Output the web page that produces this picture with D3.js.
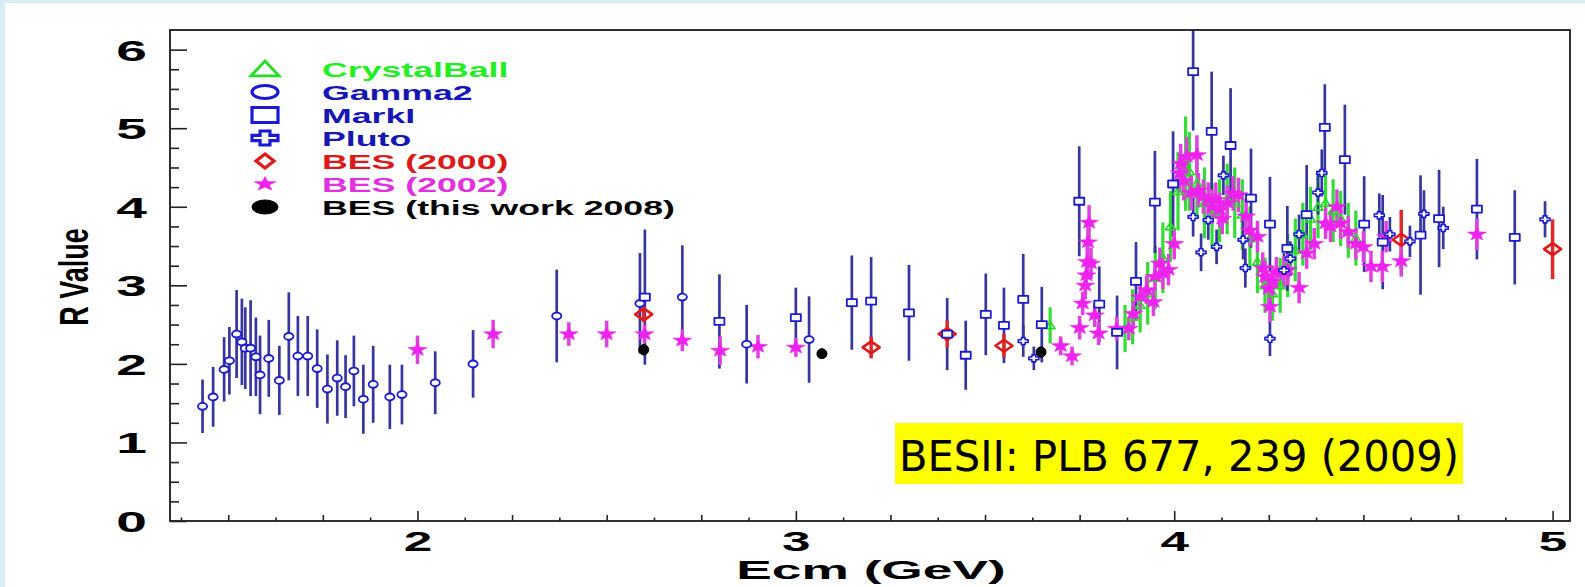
<!DOCTYPE html>
<html>
<head>
<meta charset="utf-8">
<script src="https://cdn.jsdelivr.net/npm/d3@7"></script>
<style>
  html, body { margin: 0; padding: 0; background: #d9eef4; }
  svg { display: block; }
</style>
</head>
<body>
<svg id="chart" width="1585" height="587"></svg>
<script>
// R value measurements: [Ecm (GeV), R, error]
const crystalBall = [
  [3.672, 2.49, 0.23], [3.87, 2.45, 0.30], [3.89, 2.60, 0.35], [3.91, 2.75, 0.35],
  [3.93, 2.90, 0.40], [3.95, 3.10, 0.40], [3.97, 3.35, 0.45], [3.99, 3.75, 0.45],
  [4.01, 4.20, 0.50], [4.03, 4.55, 0.60], [4.04, 4.45, 0.50], [4.06, 4.30, 0.45],
  [4.08, 4.05, 0.45], [4.10, 3.90, 0.40], [4.12, 3.95, 0.40], [4.14, 4.10, 0.45],
  [4.16, 4.05, 0.45], [4.18, 3.90, 0.45], [4.20, 3.60, 0.40], [4.22, 3.30, 0.40],
  [4.24, 3.00, 0.35], [4.26, 2.90, 0.35], [4.28, 3.00, 0.35], [4.30, 3.25, 0.40],
  [4.32, 3.45, 0.40], [4.34, 3.65, 0.40], [4.36, 3.85, 0.40], [4.38, 4.00, 0.40],
  [4.40, 4.05, 0.40], [4.42, 3.95, 0.40], [4.44, 3.85, 0.35], [4.46, 3.70, 0.35],
  [4.48, 3.60, 0.35]
];
const gamma2 = [
  [1.432, 1.46, 0.34], [1.460, 1.58, 0.38], [1.489, 1.93, 0.41], [1.503, 2.04, 0.43],
  [1.522, 2.38, 0.56], [1.536, 2.28, 0.55], [1.545, 2.20, 0.52], [1.559, 2.20, 0.61],
  [1.573, 2.09, 0.50], [1.584, 1.86, 0.50], [1.607, 2.07, 0.49], [1.635, 1.79, 0.44],
  [1.660, 2.35, 0.56], [1.684, 2.10, 0.51], [1.710, 2.10, 0.51], [1.735, 1.94, 0.50],
  [1.762, 1.68, 0.44], [1.788, 1.82, 0.48], [1.810, 1.71, 0.40], [1.832, 1.91, 0.45],
  [1.857, 1.55, 0.44], [1.883, 1.74, 0.49], [1.927, 1.58, 0.41], [1.959, 1.61, 0.38],
  [2.047, 1.76, 0.40], [2.147, 2.00, 0.43], [2.368, 2.61, 0.59], [2.588, 2.77, 0.64],
  [2.700, 2.85, 0.66], [2.870, 2.25, 0.50], [3.035, 2.31, 0.55]
];
const markI = [
  [2.601, 2.85, 0.86], [2.798, 2.54, 0.60], [3.000, 2.59, 0.38], [3.148, 2.78, 0.60],
  [3.199, 2.80, 0.56], [3.299, 2.65, 0.61], [3.400, 2.38, 0.46], [3.449, 2.11, 0.44],
  [3.502, 2.63, 0.52], [3.550, 2.49, 0.48], [3.601, 2.82, 0.58], [3.650, 2.50, 0.48],
  [3.749, 4.07, 0.70], [3.802, 2.76, 0.48], [3.849, 2.40, 0.47], [3.899, 3.05, 0.50],
  [3.949, 4.06, 0.65], [3.997, 4.29, 0.67], [4.050, 5.72, 0.75], [4.099, 4.96, 0.76],
  [4.149, 4.78, 0.73], [4.203, 4.11, 0.63], [4.253, 3.78, 0.60], [4.299, 3.47, 0.54],
  [4.350, 3.90, 0.63], [4.398, 5.01, 0.55], [4.451, 4.60, 0.70], [4.502, 3.78, 0.61],
  [4.551, 3.55, 0.60], [4.651, 3.64, 0.76], [4.700, 3.85, 0.62], [4.800, 3.97, 0.64],
  [4.900, 3.61, 0.60]
];
const pluto = [
  [3.601, 2.29, 0.20], [3.629, 2.07, 0.15], [4.050, 3.87, 0.25], [4.071, 3.42, 0.24],
  [4.090, 3.83, 0.25], [4.112, 3.49, 0.22], [4.130, 4.40, 0.25], [4.182, 3.58, 0.25],
  [4.188, 3.22, 0.25], [4.253, 2.32, 0.22], [4.290, 3.19, 0.22], [4.307, 3.34, 0.22],
  [4.330, 3.65, 0.25], [4.380, 4.18, 0.28], [4.390, 4.43, 0.30], [4.542, 3.89, 0.28],
  [4.570, 3.65, 0.22], [4.623, 3.56, 0.20], [4.660, 3.91, 0.30], [4.711, 3.73, 0.27],
  [4.980, 3.84, 0.23]
];
const bes2000 = [
  [2.598, 2.63, 0.10], [3.199, 2.21, 0.14], [3.400, 2.38, 0.17], [3.550, 2.23, 0.15],
  [4.600, 3.58, 0.38], [5.000, 3.46, 0.38]
];
const bes2002 = [
  [2.000, 2.18, 0.18], [2.200, 2.38, 0.18], [2.400, 2.38, 0.15], [2.500, 2.38, 0.17],
  [2.600, 2.38, 0.12], [2.700, 2.30, 0.14], [2.800, 2.17, 0.18], [2.900, 2.22, 0.15],
  [3.000, 2.21, 0.12], [3.700, 2.23, 0.12], [3.730, 2.10, 0.12], [3.750, 2.46, 0.15],
  [3.758, 2.77, 0.15], [3.765, 3.00, 0.18], [3.768, 3.13, 0.18], [3.770, 3.30, 0.20],
  [3.772, 3.55, 0.20], [3.775, 3.80, 0.22], [3.780, 3.28, 0.20], [3.790, 2.62, 0.15],
  [3.800, 2.39, 0.15], [3.848, 2.45, 0.15], [3.880, 2.45, 0.15], [3.892, 2.64, 0.16],
  [3.910, 2.85, 0.18], [3.927, 2.94, 0.18], [3.945, 2.79, 0.18], [3.949, 3.11, 0.18],
  [3.962, 3.28, 0.20], [3.970, 3.15, 0.20], [3.985, 3.20, 0.20], [4.000, 3.53, 0.20],
  [4.015, 4.43, 0.25], [4.017, 4.55, 0.25], [4.025, 4.33, 0.25], [4.033, 4.64, 0.25],
  [4.045, 4.18, 0.22], [4.060, 4.66, 0.25], [4.064, 4.21, 0.22], [4.077, 4.13, 0.22],
  [4.090, 4.09, 0.22], [4.100, 4.00, 0.22], [4.110, 4.09, 0.22], [4.120, 3.96, 0.22],
  [4.127, 3.85, 0.20], [4.140, 4.05, 0.22], [4.156, 4.17, 0.22], [4.170, 4.15, 0.22],
  [4.190, 3.88, 0.22], [4.200, 3.70, 0.20], [4.220, 3.62, 0.20], [4.234, 3.22, 0.20],
  [4.240, 3.11, 0.20], [4.250, 2.96, 0.20], [4.253, 2.73, 0.20], [4.260, 3.05, 0.20],
  [4.270, 3.16, 0.20], [4.290, 3.17, 0.20], [4.300, 3.20, 0.20], [4.330, 2.97, 0.20],
  [4.350, 3.41, 0.20], [4.370, 3.53, 0.20], [4.400, 3.79, 0.20], [4.413, 3.75, 0.20],
  [4.430, 4.00, 0.22], [4.440, 3.79, 0.20], [4.460, 3.68, 0.20], [4.480, 3.53, 0.20],
  [4.500, 3.49, 0.20], [4.520, 3.24, 0.20], [4.550, 3.24, 0.20], [4.560, 3.62, 0.20],
  [4.600, 3.31, 0.20], [4.800, 3.65, 0.20]
];
const bes2008 = [
  [2.598, 2.18, 0.07], [3.069, 2.13, 0.05], [3.648, 2.15, 0.07]
];

const legendNames = ["CrystalBall", "Gamma2", "MarkI", "Pluto", "BES (2000)", "BES (2002)", "BES (this work 2008)"];
const yTickValues = [0, 1, 2, 3, 4, 5, 6];
const xTickValues = [2, 3, 4, 5];
const xTitle = "Ecm (GeV)";
const yTitle = "R Value";
const noteText = "BESII: PLB 677, 239 (2009)";

// ---- layout ----
const W = 1585, H = 587;
const frame = { left: 170, right: 1570, top: 30, bottom: 521 };
const svg = d3.select("#chart");

svg.append("rect").attr("x", 5).attr("y", 3).attr("width", W - 5).attr("height", H - 3).attr("fill", "#ffffff");

const x = d3.scaleLinear().domain([1.346, 5.046]).range([frame.left, frame.right]);
const y = d3.scaleLinear().domain([0, 6.25]).range([frame.bottom, frame.top]);

const FONT = "'Liberation Sans', Arial, Helvetica, sans-serif";
const SX = 1.7; // horizontal stretch of the printed lettering

// ---- marker shapes (unit polygons) ----
const shapes = {
  triangle: [[0, -1], [1, 0.85], [-1, 0.85]],
  diamond: [[0, -1], [1, 0], [0, 1], [-1, 0]],
  plus: (() => { const a = 0.38; return [[-a,-1],[a,-1],[a,-a],[1,-a],[1,a],[a,a],[a,1],[-a,1],[-a,a],[-1,a],[-1,-a],[-a,-a]]; })(),
  square: [[-1, -1], [1, -1], [1, 1], [-1, 1]],
  star: d3.range(10).map(i => {
    const ang = -Math.PI / 2 + i * Math.PI / 5;
    const r = i % 2 === 0 ? 1 : 0.42;
    return [r * Math.cos(ang), r * Math.sin(ang)];
  })
};
function shapePath(name, rx, ry) {
  if (name === "circle") {
    return `M${-rx},0A${rx},${ry} 0 1,0 ${rx},0A${rx},${ry} 0 1,0 ${-rx},0Z`;
  }
  return "M" + shapes[name].map(p => [p[0] * rx, p[1] * ry].join(",")).join("L") + "Z";
}

// ---- series styling ----
const series = [
  { name: legendNames[0], data: crystalBall, shape: "triangle", rx: 5, ry: 4, stroke: "#22dd22", fill: "none", sw: 1.6, bar: "#33dd33", bw: 3.2, text: "#22ee22",
    lg: { rx: 14, ry: 8, sw: 2.8, filled: false } },
  { name: legendNames[1], data: gamma2, shape: "circle", rx: 4.6, ry: 3.4, stroke: "#1a1ad2", fill: "#ffffff", sw: 1.8, bar: "#36369e", bw: 2.7, text: "#1616b4",
    lg: { rx: 13, ry: 6.5, sw: 3.2, filled: false } },
  { name: legendNames[2], data: markI, shape: "square", rx: 5, ry: 3.5, stroke: "#1a1ad2", fill: "#ffffff", sw: 1.8, bar: "#36369e", bw: 2.7, text: "#1616b4",
    lg: { rx: 13, ry: 7.5, sw: 3.2, filled: false } },
  { name: legendNames[3], data: pluto, shape: "plus", rx: 5, ry: 3.5, stroke: "#1a1ad2", fill: "#ffffff", sw: 1.6, bar: "#36369e", bw: 2.7, text: "#1616b4",
    lg: { rx: 13, ry: 7, sw: 3.2, filled: false } },
  { name: legendNames[4], data: bes2000, shape: "diamond", rx: 8.5, ry: 6, stroke: "#e01818", fill: "none", sw: 2.6, bar: "#e02a2a", bw: 3.5, text: "#dd1a1a",
    lg: { rx: 9, ry: 7, sw: 3.2, filled: false } },
  { name: legendNames[5], data: bes2002, shape: "star", rx: 10, ry: 7, stroke: "#ee22ee", fill: "#ee22ee", sw: 0.5, bar: "#e040e0", bw: 3.5, text: "#e030e0",
    lg: { rx: 11.5, ry: 7.5, sw: 0.5, filled: true } },
  { name: legendNames[6], data: bes2008, shape: "circle", rx: 5, ry: 5, stroke: "#000000", fill: "#000000", sw: 1, bar: "#000000", bw: 3, text: "#000000",
    lg: { rx: 13, ry: 7, sw: 1, filled: true } }
];

const plot = svg.append("g");
const clip = svg.append("clipPath").attr("id", "plotclip");
clip.append("rect").attr("x", frame.left).attr("y", frame.top)
  .attr("width", frame.right - frame.left).attr("height", frame.bottom - frame.top);
const area = plot.append("g").attr("clip-path", "url(#plotclip)");

// error bars first, then markers; stars go beneath the blue markers
const barOrder = [0, 1, 2, 3, 4, 5, 6];
const markOrder = [0, 5, 4, 1, 2, 3, 6];

barOrder.forEach(i => {
  const s = series[i];
  area.append("g").selectAll("line").data(s.data).join("line")
    .attr("x1", d => x(d[0])).attr("x2", d => x(d[0]))
    .attr("y1", d => y(d[1] + d[2])).attr("y2", d => y(d[1] - d[2]))
    .attr("stroke", s.bar).attr("stroke-width", s.bw);
});
markOrder.forEach(i => {
  const s = series[i];
  area.append("g").selectAll("path").data(s.data).join("path")
    .attr("transform", d => `translate(${x(d[0])},${y(d[1])})`)
    .attr("d", shapePath(s.shape, s.rx, s.ry))
    .attr("fill", s.fill).attr("stroke", s.stroke).attr("stroke-width", s.sw)
    .attr("stroke-linejoin", "round");
});

// ---- frame ----
svg.append("rect").attr("x", frame.left).attr("y", frame.top)
  .attr("width", frame.right - frame.left).attr("height", frame.bottom - frame.top)
  .attr("fill", "none").attr("stroke", "#1a1a1a").attr("stroke-width", 1.8);

// ---- y axis ----
const yMinor = d3.range(0, 6.25, 0.25).filter(v => Math.abs(v - Math.round(v)) > 1e-6);
const yMinorAxis = svg.append("g").attr("transform", `translate(${frame.left},0)`)
  .call(d3.axisLeft(y).tickValues(yMinor).tickSize(-9).tickFormat(""));
const yAxis = svg.append("g").attr("transform", `translate(${frame.left},0)`)
  .call(d3.axisLeft(y).tickValues(yTickValues).tickSize(-17).tickFormat(d3.format("d")));
[yMinorAxis, yAxis].forEach(g => {
  g.select(".domain").remove();
  g.selectAll("line").attr("stroke", "#222").attr("stroke-width", 1.6);
});
yAxis.selectAll("text")
  .attr("x", 0).attr("dy", "0.36em")
  .attr("transform", `translate(-23,0) scale(1.9,1)`)
  .attr("text-anchor", "end")
  .attr("font-family", FONT).attr("font-weight", "bold").attr("font-size", 29).attr("fill", "#000");

// ---- x axis ----
const xSmall = d3.range(1.375, 5.04, 0.125).filter(v => Math.abs(v * 4 - Math.round(v * 4)) > 1e-6);
const xMedium = d3.range(1.5, 5.04, 0.25).filter(v => Math.abs(v - Math.round(v)) > 1e-6);
const xAxes = [
  [xSmall, 3.5, false], [xMedium, 6, false], [xTickValues, 10, true]
].map(([vals, len, lab]) => {
  const g = svg.append("g").attr("transform", `translate(0,${frame.bottom})`)
    .call(d3.axisBottom(x).tickValues(vals).tickSize(-len).tickFormat(lab ? d3.format("d") : ""));
  g.select(".domain").remove();
  g.selectAll("line").attr("stroke", "#222").attr("stroke-width", 1.6);
  return g;
});
xAxes[2].selectAll("text")
  .attr("y", 0).attr("dy", 0)
  .attr("transform", `translate(0,30) scale(1.9,1)`)
  .attr("text-anchor", "middle")
  .attr("font-family", FONT).attr("font-weight", "bold").attr("font-size", 27).attr("fill", "#000");

// ---- axis titles ----
svg.append("text")
  .attr("transform", `translate(871,579) scale(2.05,1)`)
  .attr("text-anchor", "middle")
  .attr("font-family", FONT).attr("font-weight", "bold").attr("font-size", 26)
  .text(xTitle);
svg.append("text")
  .attr("transform", `translate(88,277) scale(1.52,1) rotate(-90)`)
  .attr("text-anchor", "middle")
  .attr("font-family", FONT).attr("font-weight", "bold").attr("font-size", 27)
  .text(yTitle);

// ---- legend ----
const legend = svg.append("g");
const rowY = d3.scalePoint().domain(legendNames).range([69, 207]);
series.forEach(s => {
  const cy = rowY(s.name);
  legend.append("path")
    .attr("transform", `translate(265,${cy})`)
    .attr("d", shapePath(s.shape, s.lg.rx, s.lg.ry))
    .attr("fill", s.lg.filled ? s.fill : "none")
    .attr("stroke", s.stroke).attr("stroke-width", s.lg.sw).attr("stroke-linejoin", "miter");
  legend.append("text")
    .attr("transform", `translate(322,${cy + 7.5}) scale(${SX},1)`)
    .attr("font-family", FONT).attr("font-weight", "bold").attr("font-size", 21)
    .attr("fill", s.text)
    .text(s.name);
});

// ---- publication note ----
svg.append("rect").attr("x", 895).attr("y", 423).attr("width", 568).attr("height", 61).attr("fill", "#ffff00");
svg.append("text")
  .attr("x", 899).attr("y", 471)
  .attr("font-family", "'DejaVu Sans', sans-serif").attr("font-size", 42)
  .attr("textLength", 560).attr("lengthAdjust", "spacingAndGlyphs")
  .attr("fill", "#000")
  .text(noteText);
</script>
</body>
</html>
